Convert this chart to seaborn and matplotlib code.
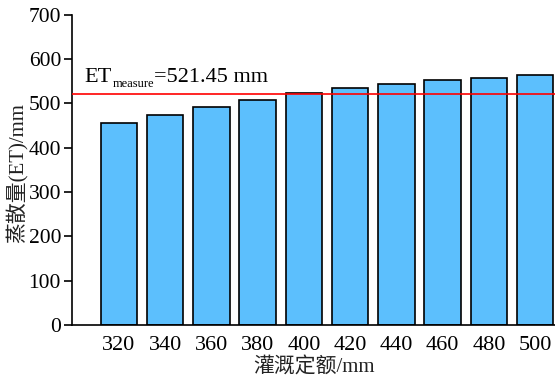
import matplotlib
matplotlib.use("Agg")
import matplotlib.pyplot as plt
import seaborn as sns
import pandas as pd

# Irrigation quota (mm) and simulated evapotranspiration (mm)
quota = ["320", "340", "360", "380", "400", "420", "440", "460", "480", "500"]
et_values = [456, 474, 492, 508, 523, 534, 545, 552, 558, 564]
et_measured = 521.45
y_ticks = [0, 100, 200, 300, 400, 500, 600, 700]

sns.set_theme(style="ticks")
plt.rcParams["font.family"] = ["Liberation Serif", "Noto Sans CJK SC"]

df = pd.DataFrame({"quota": quota, "et": et_values})

fig = plt.figure(figsize=(5.55, 3.81), dpi=100)
ax = fig.add_axes([0.130, 0.147, 0.870, 0.814])

sns.barplot(data=df, x="quota", y="et", ax=ax, color="#5CBFFD",
            saturation=1, width=0.79, edgecolor="black", linewidth=1.2)

# Measured ET reference line with its label (main text, subscript, value)
ax.axhline(et_measured, color="red", linewidth=1.2, zorder=5)
t_main = ax.text(0.026, 549, "ET", transform=ax.get_yaxis_transform(),
                 fontsize=16, color="black", ha="left", va="baseline")
t_sub = ax.annotate("measure", xy=(1, 0), xycoords=t_main, xytext=(0.5, 0),
                    textcoords="offset points", fontsize=9, color="black",
                    ha="left", va="baseline")
ax.annotate(f"={et_measured:.2f} mm", xy=(1, 0), xycoords=(t_sub, t_main),
            fontsize=16, color="black", ha="left", va="bottom")

ax.set_xlim(-1.01, 9.43)
ax.set_ylim(0, 700)
ax.set_yticks(y_ticks)
ax.tick_params(axis="y", direction="out", length=6, width=1.2, labelsize=15.5, colors="black", pad=2)
ax.tick_params(axis="x", length=0, labelsize=16, pad=8, colors="black")

for side in ["top", "right"]:
    ax.spines[side].set_visible(False)
for side in ["left", "bottom"]:
    ax.spines[side].set_linewidth(1.2)
    ax.spines[side].set_color("black")

ax.set_xlabel("灌溉定额/mm", fontsize=15, color="#222222", labelpad=2)
ax.set_ylabel("蒸散量(ET)/mm", fontsize=15, color="#222222")
ax.yaxis.set_label_coords(-0.09, 0.49)

fig.savefig("out.png", dpi=100)
